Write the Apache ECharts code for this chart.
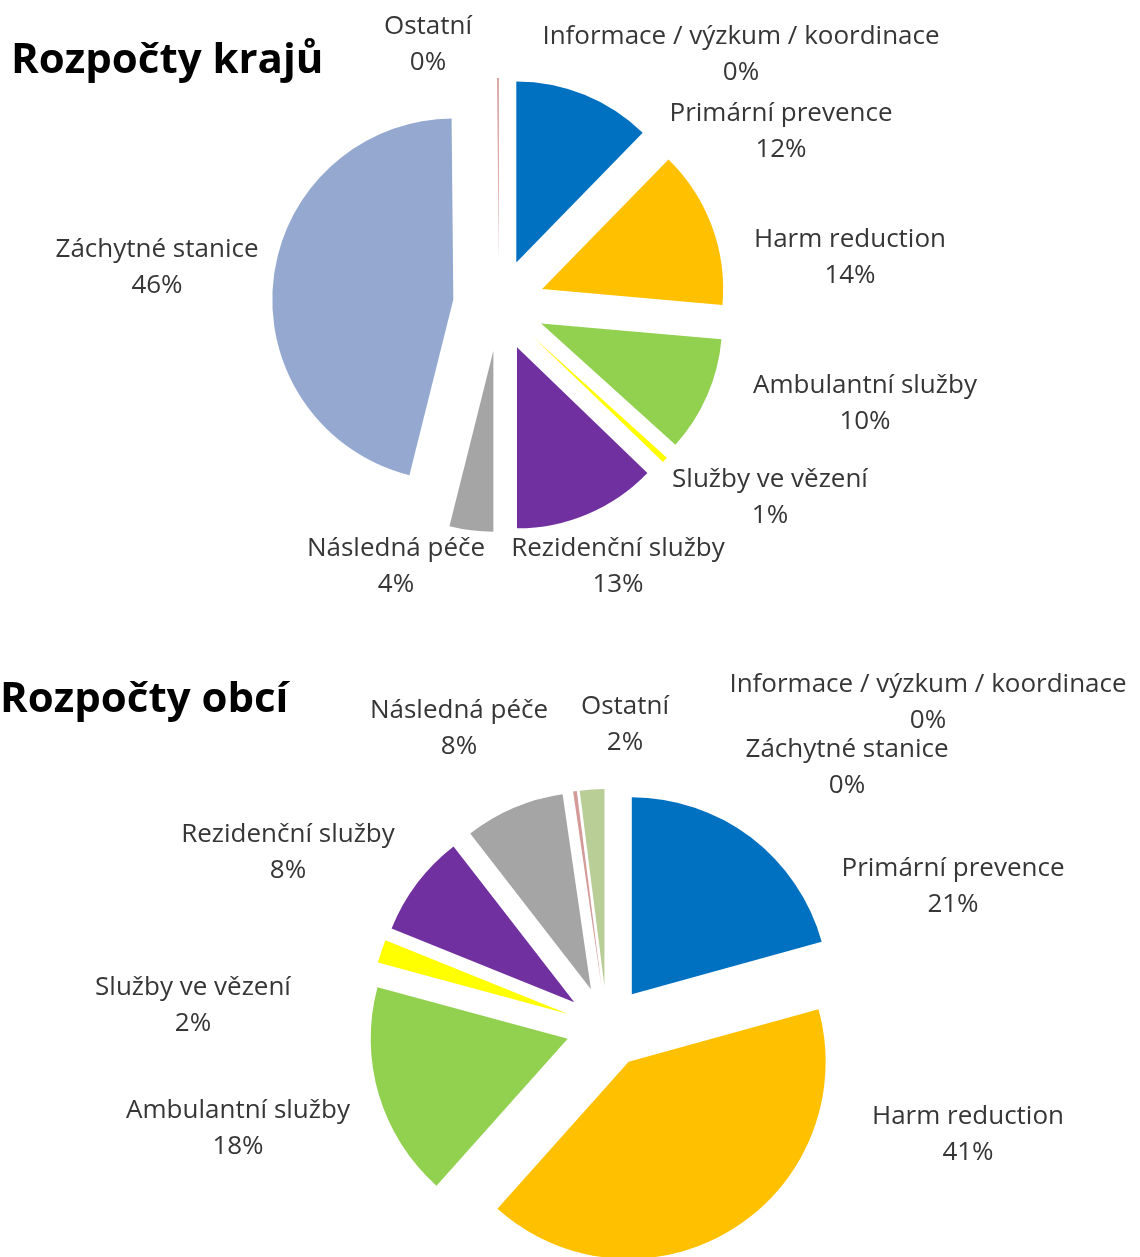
<!DOCTYPE html>
<html>
<head>
<meta charset="utf-8">
<title>Rozpočty krajů a obcí</title>
<script src="https://cdn.jsdelivr.net/npm/echarts@6/dist/echarts.min.js"></script>
<style>
  html, body { margin: 0; padding: 0; background: #fff; }
  #main { width: 1140px; height: 1257px; }
</style>
</head>
<body>
<div id="main"></div>
<script>
// kategorie (stejné pro oba grafy)
var categories = ['Informace / výzkum / koordinace', 'Primární prevence', 'Harm reduction', 'Ambulantní služby',
  'Služby ve vězení', 'Rezidenční služby', 'Následná péče', 'Záchytné stanice', 'Ostatní'];

// podíly v %
var krajeValues = [0, 12.3, 14.1, 10.3, 0.5, 12.8, 3.9, 45.95, 0.15];
var obceValues = [0, 20.7, 40.9, 17.6, 1.9, 8.4, 8.2, 0.3, 2.0];

// barvy výsečí
var krajeColors = ['#C0504D', '#0070C0', '#FFC000', '#92D050', '#FFFF00', '#7030A0', '#A5A5A5', '#95A9D0', '#D49A98'];
var obceColors = ['#C0504D', '#0070C0', '#FFC000', '#92D050', '#FFFF00', '#7030A0', '#A5A5A5', '#D49A98', '#B9CD96'];

// umístění popisků vůči středu koláče
var krajeLabelPos = [[242, -250], [282, -173], [351, -47], [366, 99], [271, 193], [119, 262], [-103, 262], [-342, -37], [-71, -260]];
var obceLabelPos = [[321, -324], [346, -140], [361, 108], [-369, 102], [-414, -21], [-319, -174], [-148, -298], [240, -259], [18, -302]];

var FONT = "'Open Sans', sans-serif";
var krajeCenter = [499, 305], obceCenter = [607, 1027];

function sum(values) {
  var s = 0;
  for (var i = 0; i < values.length; i++) s += values[i];
  return s;
}

function buildData(values, colors) {
  var arr = [];
  for (var i = 0; i < categories.length; i++) {
    arr.push({
      name: categories[i],
      value: values[i],
      selected: true,
      itemStyle: { color: colors[i] },
      select: { itemStyle: { color: colors[i] } }
    });
  }
  return arr;
}

function pieSeries(values, colors, center, radius, offset) {
  return {
    type: 'pie',
    center: center,
    radius: radius,
    startAngle: 90,
    clockwise: true,
    selectedMode: 'multiple',
    selectedOffset: offset,
    avoidLabelOverlap: false,
    animation: false,
    silent: true,
    itemStyle: { borderWidth: 0 },
    emphasis: { disabled: true },
    label: { show: false },
    labelLine: { show: false },
    data: buildData(values, colors)
  };
}

//popisky: název + podíl v %
function buildLabels(values, center, labelPos) {
  var total = sum(values);
  var list = [];
  for (var i = 0; i < categories.length; i++) {
    list.push({
      type: 'text',
      x: center[0] + labelPos[i][0],
      y: center[1] + labelPos[i][1],
      silent: true,
      style: {
        text: categories[i] + '\n' + Math.round(values[i] / total * 100) + '%',
        align: 'center',
        verticalAlign: 'middle',
        fontFamily: FONT,
        fontSize: 26,
        lineHeight: 36,
        fill: '#363636'
      }
    });
  }
  return list;
}

var myChart = echarts.init(document.getElementById('main'));
var option = {
  backgroundColor: '#fff',
  animation: false,
  title: [{
    text: 'Rozpočty krajů',
    left: 6,
    top: 35,
    textStyle: { fontFamily: FONT, fontSize: 42, fontWeight: 'bold', color: '#000' }
  }, {
    text: 'Rozpočty obcí',
    left: -5,
    top: 674,
    textStyle: { fontFamily: FONT, fontSize: 42, fontWeight: 'bold', color: '#000' }
  }],
  graphic: buildLabels(krajeValues, krajeCenter, krajeLabelPos).concat(buildLabels(obceValues, obceCenter, obceLabelPos)),
  series: [
    pieSeries(krajeValues, krajeColors, krajeCenter, 181, 46),
    pieSeries(obceValues, obceColors, obceCenter, 197, 41)
  ]
};
myChart.setOption(option);
</script>
</body>
</html>
